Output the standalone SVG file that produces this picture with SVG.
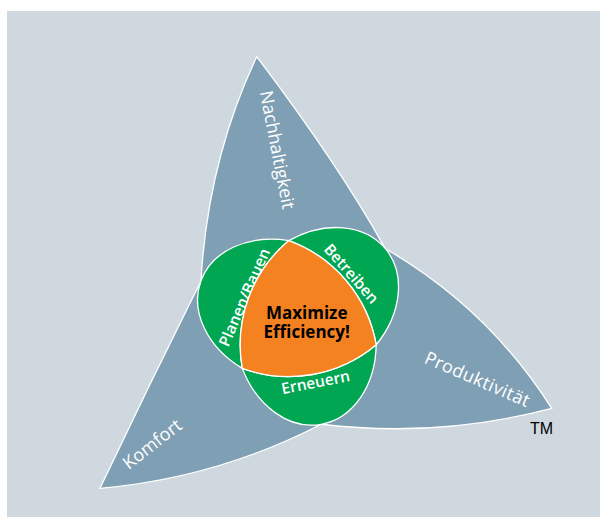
<svg xmlns="http://www.w3.org/2000/svg" width="600" height="517" viewBox="0 0 600 517">
<style>
.ln{stroke:#ffffff;stroke-width:1.3;stroke-linejoin:miter}
.leaf{fill:#7f9fb4}
.lobe{fill:#00a651}
.core{fill:#f58220}
.lt{font-family:"Open Sans","Noto Sans","DejaVu Sans",sans-serif;fill:#ffffff;text-anchor:middle}
.big{font-size:18px;font-weight:500}
.mid{font-size:15.5px;font-weight:600}
.ct{font-family:"Open Sans","Noto Sans","DejaVu Sans",sans-serif;font-weight:bold;font-size:17px;fill:#000000;text-anchor:middle}
</style>
<rect x="7" y="11" width="593" height="506" fill="#cfd8df"/>
<g id="leaves">
<path class="leaf ln" d="M256.7,56.7 Q338,164 385.16,248.48 Q488.1,308.2 551.7,408.3 Q438.3,438.3 321.18,424.26 Q216.5,478.1 100,488.3 Q149.5,384 200.94,280.96 Q208,160 256.7,56.7 Z"/>
<text class="lt big" transform="translate(271.2,151) rotate(79)">Nachhaltigkeit</text>
<text class="lt big" transform="translate(475,385) rotate(23.5)" letter-spacing="0.4">Produktivität</text>
<text class="lt big" transform="translate(156,449) rotate(-38)">Komfort</text>
</g>
<g id="planen-bauen">
<path class="lobe ln" d="M288.8,240.59 A91 70.1 20 0 0 242.3,368.36 A135.97 135.97 0 0 1 288.8,240.59 Z"/>
<text class="lt mid" transform="translate(249.3,299.4) rotate(-66.4)">Planen/Bauen</text>
</g>
<g id="betreiben">
<path class="lobe ln" d="M288.8,240.59 A91 70.1 -40 0 1 376.2,344.75 A135.97 135.97 0 0 0 288.8,240.59 Z"/>
<text class="lt mid" transform="translate(347.3,277.3) rotate(48.7)">Betreiben</text>
</g>
<g id="erneuern">
<path class="lobe ln" d="M376.2,344.75 A91 70.1 80 0 1 242.3,368.36 A135.97 135.97 0 0 0 376.2,344.75 Z"/>
<text class="lt mid" transform="translate(316.7,387.6) rotate(-11)">Erneuern</text>
</g>
<g id="core">
<path class="core ln" d="M288.8,240.59 A135.97 135.97 0 0 1 376.2,344.75 A135.97 135.97 0 0 1 242.3,368.36 A135.97 135.97 0 0 1 288.8,240.59 Z"/>
<text class="ct" x="306.7" y="319">Maximize</text>
<text class="ct" x="306.7" y="337.8">Efficiency!</text>
</g>
<g id="connectors"></g>
<text x="530" y="433.5" font-family="Liberation Sans, Arial, sans-serif" font-size="16" fill="#000000">TM</text>
</svg>
